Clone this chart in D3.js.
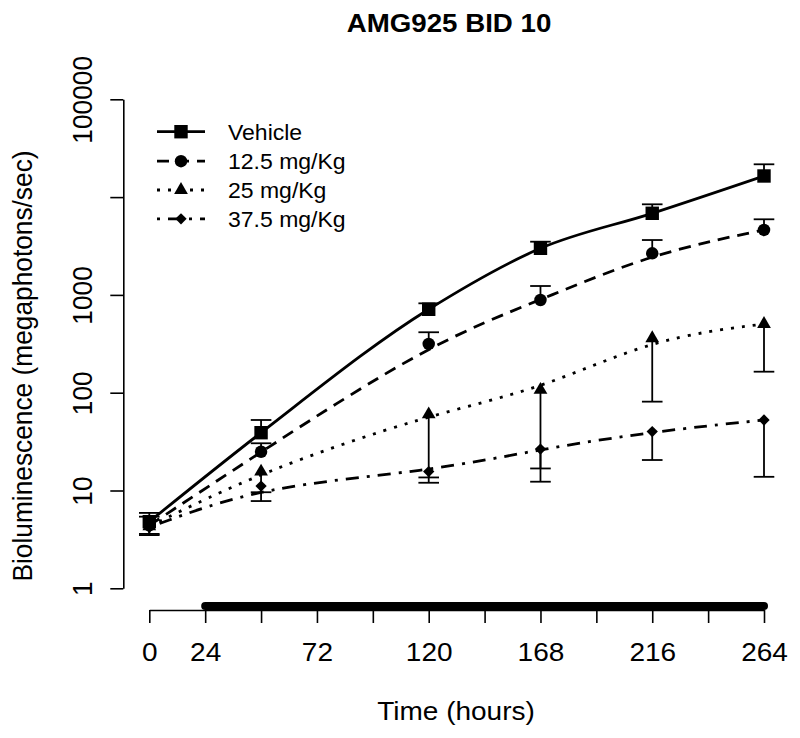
<!DOCTYPE html>
<html>
<head>
<meta charset="utf-8">
<script src="https://cdnjs.cloudflare.com/ajax/libs/d3/7.8.5/d3.min.js"></script>
<style>
body{margin:0;background:#fff}
svg{display:block;font-family:"Liberation Sans",Arial,sans-serif}
</style>
</head>
<body>
<svg id="chart"></svg>
<script>
// data
const times = [0, 48, 120, 168, 216, 264]
const seriesNames = ["Vehicle", "12.5 mg/Kg", "25 mg/Kg", "37.5 mg/Kg"]

const vehicle = [4.8, 39, 713, 2995, 6830, 16440]
const vehicleUpper = [5.9, 52.6, 820, 3500, 8440, 21650]

const dose125 = [4.4, 24.9, 315, 887, 2663, 4613]
const dose125Upper = [5.4, 30.4, 415, 1233, 3640, 5930]

const dose25 = [4.3, 15.6, 60, 107, 360, 504]
const dose25Lower = [3.6, 9.6, 12, 12.3, 81, 164]

const dose375 = [4.2, 11.1, 15.6, 26.5, 40, 52.6]
const dose375Lower = [3.5, 7.8, 13.6, 16.8, 20.5, 13.8]

const xTicks = [0, 24, 48, 72, 96, 120, 144, 168, 192, 216, 240, 264]
const xLabels = [0, 24, 72, 120, 168, 216, 264]
const yTicks = [1, 10, 100, 1000, 10000, 100000]
const yLabels = ["1", "10", "100", "1000", "", "100000"]
const treatment = [24, 264]

let width = 800
let height = 738
let sx = 1.065

let svg = d3.select('#chart')
            .attr('width', width)
            .attr('height', height)

let xScale = d3.scaleLinear().domain([0, 264]).range([149.3, 764])
let yScale = d3.scaleLog().domain([1, 100000]).range([588.3, 99.3])

let series = [
    {name: seriesNames[0], values: vehicle, err: vehicleUpper, dash: null, sym: 'square', curve: d3.curveMonotoneX},
    {name: seriesNames[1], values: dose125, err: dose125Upper, dash: '12,8', sym: 'circle', curve: d3.curveBasis},
    {name: seriesNames[2], values: dose25, err: dose25Lower, dash: '3,8', sym: 'triangle', curve: d3.curveBasis},
    {name: seriesNames[3], values: dose375, err: dose375Lower, dash: '3,8,13,8', sym: 'diamond', curve: d3.curveBasis}
]

let symbolPath = (sym) => {
    if (sym === 'square') return d3.symbol(d3.symbolSquare, 180)()
    if (sym === 'circle') return d3.symbol(d3.symbolCircle, 122)()
    if (sym === 'triangle') return d3.symbol(d3.symbolTriangle, 82)()
    return d3.symbol(d3.symbolSquare, 64)()
}
let symbolRotate = (sym) => sym === 'diamond' ? ' rotate(45)' : ''

let drawAxes = () => {
    let xAxis = d3.axisBottom(xScale)
                  .tickValues(xTicks)
                  .tickSize(13)
                  .tickSizeOuter(0)
                  .tickFormat(d => xLabels.includes(d) ? d : '')

    let gx = svg.append('g')
                .attr('id', 'x-axis')
                .attr('transform', 'translate(0,610)')
                .call(xAxis)
    gx.select('.domain').attr('stroke-width', 1.6)
    gx.selectAll('.tick line').attr('stroke-width', 1.6)
    gx.selectAll('.tick text')
      .attr('y', 50.7)
      .attr('dy', null)
      .attr('font-size', 26.3)
      .attr('font-family', null)
      .attr('fill', '#000')
      .attr('transform', `scale(${sx},1)`)

    let yAxis = d3.axisLeft(yScale)
                  .tickValues(yTicks)
                  .tickSize(13)
                  .tickSizeOuter(0)
                  .tickFormat((d, i) => yLabels[i])

    let gy = svg.append('g')
                .attr('id', 'y-axis')
                .attr('transform', 'translate(123.3,0)')
                .call(yAxis)
    gy.select('.domain').attr('stroke-width', 1.6)
    gy.selectAll('.tick line').attr('stroke-width', 1.6)
    gy.selectAll('.tick text')
      .attr('x', null)
      .attr('dy', null)
      .attr('text-anchor', 'middle')
      .attr('font-size', 26.3)
      .attr('font-family', null)
      .attr('fill', '#000')
      .attr('transform', `translate(-31.6,0) scale(${sx},1) rotate(-90)`)

    // treatment period bar
    svg.append('line')
       .attr('x1', xScale(treatment[0]))
       .attr('x2', xScale(treatment[1]))
       .attr('y1', 606)
       .attr('y2', 606)
       .attr('stroke', '#000')
       .attr('stroke-width', 8)
       .attr('stroke-linecap', 'round')
}

let drawLines = () => {
    series.forEach((s) => {
        let line = d3.line()
                     .x((d, i) => xScale(times[i]))
                     .y(d => yScale(d))
                     .curve(s.curve)
        svg.append('path')
           .datum(s.values)
           .attr('d', line)
           .attr('fill', 'none')
           .attr('stroke', '#000')
           .attr('stroke-width', 2.8)
           .attr('stroke-dasharray', s.dash)
    })
}

let drawErrors = () => {
    series.forEach((s) => {
        let g = svg.append('g').attr('stroke', '#000').attr('stroke-width', 1.8)
        g.selectAll('line.bar')
         .data(s.values)
         .enter()
         .append('line')
         .attr('class', 'bar')
         .attr('x1', (d, i) => xScale(times[i]))
         .attr('x2', (d, i) => xScale(times[i]))
         .attr('y1', d => yScale(d))
         .attr('y2', (d, i) => yScale(s.err[i]))
        g.selectAll('line.cap')
         .data(s.err)
         .enter()
         .append('line')
         .attr('class', 'cap')
         .attr('x1', (d, i) => xScale(times[i]) - 10.3)
         .attr('x2', (d, i) => xScale(times[i]) + 10.3)
         .attr('y1', d => yScale(d))
         .attr('y2', d => yScale(d))
    })
}

let drawPoints = () => {
    series.forEach((s) => {
        svg.selectAll('path.pt-' + s.sym)
           .data(s.values)
           .enter()
           .append('path')
           .attr('class', 'pt-' + s.sym)
           .attr('d', symbolPath(s.sym))
           .attr('transform', (d, i) => 'translate(' + xScale(times[i]) + ',' + yScale(d) + ')' + symbolRotate(s.sym))
           .attr('fill', '#000')
    })
}

let drawLegend = () => {
    let rowY = [131.7, 161.2, 190, 218.8]
    series.forEach((s, i) => {
        let g = svg.append('g').attr('transform', 'translate(0,' + rowY[i] + ')')
        g.append('line')
         .attr('x1', 157)
         .attr('x2', 205)
         .attr('stroke', '#000')
         .attr('stroke-width', 2.8)
         .attr('stroke-dasharray', s.dash)
        g.append('path')
         .attr('d', symbolPath(s.sym))
         .attr('transform', 'translate(181,0)' + symbolRotate(s.sym))
        g.append('text')
         .attr('transform', `translate(228,8) scale(${sx},1)`)
         .attr('font-size', 21.6)
         .attr('fill', '#000')
         .text(s.name)
    })
}

let drawTitles = () => {
    svg.append('text')
       .attr('transform', `translate(449,32) scale(${sx},1)`)
       .attr('text-anchor', 'middle')
       .attr('font-size', 26)
       .attr('font-weight', 'bold')
       .text('AMG925 BID 10')

    svg.append('text')
       .attr('transform', `translate(456,720) scale(${sx},1)`)
       .attr('text-anchor', 'middle')
       .attr('font-size', 26.3)
       .attr('fill', '#000')
       .text('Time (hours)')

    svg.append('text')
       .attr('transform', `translate(32,366) scale(${sx},1) rotate(-90)`)
       .attr('text-anchor', 'middle')
       .attr('font-size', 26.3)
       .attr('fill', '#000')
       .text('Bioluminescence (megaphotons/sec)')
}

drawAxes()
drawLines()
drawErrors()
drawPoints()
drawLegend()
drawTitles()
</script>
</body>
</html>
